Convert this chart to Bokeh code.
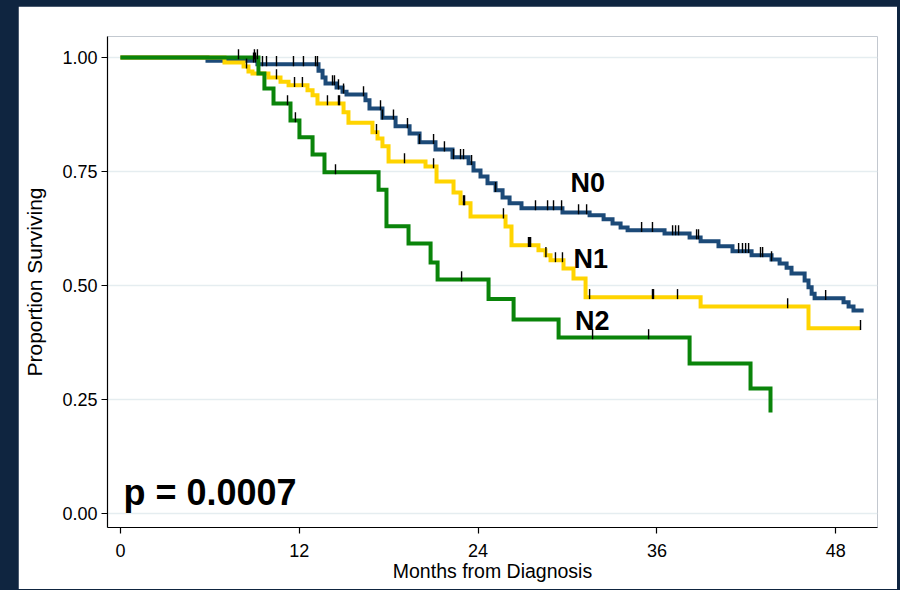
import numpy as np
from bokeh.plotting import figure
from bokeh.models import Range1d, FixedTicker
from bokeh.core.properties import value
from bokeh.embed import file_html
from bokeh.resources import INLINE

# ---------------- data ----------------
groups = ["N0", "N1", "N2"]

n0_times = [5.84, 9.19, 13.29, 13.56, 13.76, 14.50, 14.90, 15.17, 16.44, 16.71, 17.58, 18.46,
            19.40, 20.07, 21.14, 22.28, 23.36, 23.69, 24.16, 24.63, 25.17, 25.64, 26.11, 26.91,
            29.66, 31.48, 32.42, 33.02, 33.56, 34.03, 36.51, 38.19, 38.93, 40.13, 41.07, 42.35,
            43.69, 44.23, 44.70, 45.03, 45.91, 46.17, 46.38, 46.58, 48.52, 48.86, 49.19]
n0_surv = [0.993, 0.985, 0.971, 0.956, 0.943, 0.934, 0.925, 0.919, 0.906, 0.888, 0.868, 0.849,
           0.833, 0.814, 0.798, 0.781, 0.768, 0.752, 0.739, 0.724, 0.709, 0.693, 0.680, 0.669,
           0.660, 0.654, 0.645, 0.636, 0.627, 0.621, 0.614, 0.605, 0.597, 0.586, 0.575, 0.566,
           0.557, 0.548, 0.539, 0.526, 0.511, 0.496, 0.482, 0.472, 0.463, 0.454, 0.445]
n0_end = 49.87
n0_censored = [8.93, 9.06, 9.53, 9.80, 10.47, 11.61, 12.28, 13.09, 13.22, 14.23, 14.36, 14.63,
               14.97, 16.31, 17.45, 17.58, 18.32, 19.26, 20.07, 21.01, 21.74, 22.35, 22.82, 23.02,
               23.56, 25.17, 27.85, 28.66, 29.06, 29.60, 30.74, 31.28, 34.97, 35.70, 37.05, 37.25,
               37.45, 38.66, 38.79, 41.48, 41.74, 41.95, 42.15, 42.95, 43.09, 43.69, 47.32]

n1_times = [6.98, 8.26, 8.59, 8.86, 9.93, 10.74, 11.28, 12.55, 12.89, 13.22, 14.97, 15.30,
            16.91, 17.25, 17.58, 17.99, 20.47, 21.21, 22.35, 22.82, 23.49, 25.84, 26.24, 28.05,
            28.52, 28.86, 29.73, 30.40, 31.21, 38.93, 46.17]
n1_surv = [0.989, 0.980, 0.969, 0.965, 0.956, 0.947, 0.939, 0.928, 0.917, 0.899, 0.880, 0.857,
           0.836, 0.822, 0.805, 0.772, 0.761, 0.728, 0.704, 0.680, 0.651, 0.629, 0.588, 0.577,
           0.566, 0.555, 0.537, 0.515, 0.474, 0.454, 0.406]
n1_end = 49.66
n1_censored = [8.46, 10.47, 11.68, 12.21, 13.89, 14.63, 14.70, 17.18, 19.06, 21.01, 23.02, 23.09,
               25.70, 27.38, 27.45, 27.52, 28.55, 29.19, 29.66, 31.48, 35.70, 35.77, 37.38, 44.77,
               49.66]

n2_times = [9.26, 9.66, 10.27, 11.41, 12.01, 12.89, 13.69, 17.32, 17.85, 19.33, 20.81, 21.28,
            24.70, 26.38, 29.40, 38.19, 42.28, 43.62]
n2_surv = [0.965, 0.932, 0.899, 0.862, 0.825, 0.787, 0.748, 0.710, 0.630, 0.592, 0.550, 0.513,
           0.470, 0.425, 0.386, 0.329, 0.274, 0.221]
n2_end = 43.62
n2_censored = [7.92, 8.99, 9.19, 11.21, 11.74, 14.43, 22.89, 31.68, 35.44]

x_ticks = [0, 12, 24, 36, 48]
y_ticks = [0.0, 0.25, 0.5, 0.75, 1.0]
y_tick_labels = ["0.00", "0.25", "0.50", "0.75", "1.00"]
p_value_text = "p = 0.0007"

# ---------------- styling ----------------
FONT = "Liberation Sans"
PAGE_BG = "#0f2540"
colors = {"N0": "#1c4a78", "N1": "#ffd400", "N2": "#0a840a"}
label_pos = {"N0": (30.2, 0.724), "N1": (30.4, 0.557), "N2": (30.5, 0.421)}
p_pos = (0.2, 0.046)

p = figure(width=879, height=583, output_backend="svg", toolbar_location=None,
           x_range=Range1d(-0.87, 50.8), y_range=Range1d(-0.031, 1.046),
           min_border_left=89, min_border_right=20, min_border_top=30, min_border_bottom=62)
p.background_fill_color = "white"
p.border_fill_color = "white"
p.outline_line_color = None

p.xgrid.grid_line_color = None
p.ygrid.grid_line_color = "#e5edf0"
p.ygrid.grid_line_width = 1.6

p.xaxis.ticker = FixedTicker(ticks=x_ticks)
p.yaxis.ticker = FixedTicker(ticks=y_ticks)
p.yaxis.major_label_overrides = {t: l for t, l in zip(y_ticks, y_tick_labels)}
for ax in (p.xaxis, p.yaxis):
    ax.axis_line_color = "black"
    ax.axis_line_width = 1.2
    ax.major_tick_line_color = "black"
    ax.major_tick_line_width = 1.2
    ax.major_tick_in = 0
    ax.major_tick_out = 6
    ax.minor_tick_line_color = None
    ax.major_label_text_font = FONT
    ax.major_label_text_font_size = "18px"
    ax.major_label_text_color = "black"
    ax.axis_label_text_font = FONT
    ax.axis_label_text_font_style = "normal"
    ax.axis_label_text_color = "black"
p.xaxis.axis_label = "Months from Diagnosis"
p.yaxis.axis_label = "Proportion Surviving"
p.xaxis.axis_label_text_font_size = "19.5px"
p.yaxis.axis_label_text_font_size = "21px"
p.xaxis.major_label_standoff = 10
p.xaxis.axis_label_standoff = 0
p.yaxis.major_label_standoff = 4
p.yaxis.axis_label_standoff = 13

series = {
    "N0": (n0_times, n0_surv, n0_end, n0_censored),
    "N1": (n1_times, n1_surv, n1_end, n1_censored),
    "N2": (n2_times, n2_surv, n2_end, n2_censored),
}

for g in groups:
    t, s, end, cens = series[g]
    xs = [0.0] + list(t)
    ys = [1.0] + list(s)
    if end > xs[-1]:
        xs.append(end)
        ys.append(ys[-1])
    p.step(xs, ys, mode="after", line_color=colors[g], line_width=4, line_join="miter")

for g in groups:
    t, s, end, cens = series[g]
    xs = np.array([0.0] + list(t))
    ys = np.array([1.0] + list(s))
    c = np.array(cens)
    idx = np.searchsorted(xs, c, side="right") - 1
    cy = ys[idx]
    p.segment(x0=c, y0=cy - 0.004, x1=c, y1=cy + 0.018, line_color="black", line_width=1.4)

p.text(x=[label_pos[g][0] for g in groups], y=[label_pos[g][1] for g in groups], text=groups,
       text_font=value(FONT), text_font_style="bold", text_font_size="27px",
       text_color="black", text_align="left", text_baseline="alphabetic")

p.text(x=[p_pos[0]], y=[p_pos[1]], text=[p_value_text], text_font=value(FONT), text_font_style="bold",
       text_font_size="36px", text_color="black", text_align="left", text_baseline="alphabetic")

html = file_html(p, INLINE, title="Kaplan-Meier survival by nodal status")
html = html.replace("</head>",
                    "<style>html,body{margin:0;background:%s;}body{padding:6px 0 0 18px;}</style></head>" % PAGE_BG, 1)
open("out.html", "w").write(html)
